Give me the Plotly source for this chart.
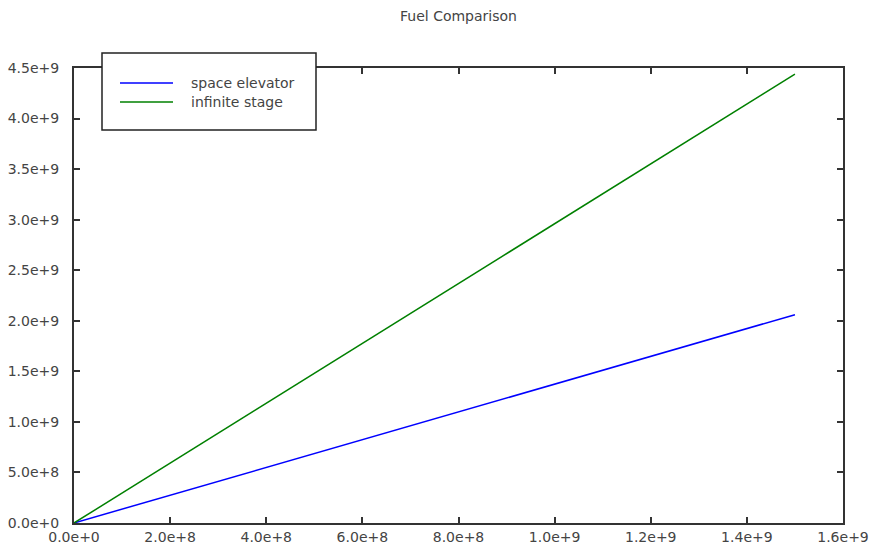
import plotly.graph_objects as go

# Data
x_vals = [0.0, 3.0e8, 6.0e8, 9.0e8, 1.2e9, 1.5e9]
space_elevator = [0.0, 0.412e9, 0.824e9, 1.236e9, 1.648e9, 2.06e9]
infinite_stage = [0.0, 0.888e9, 1.776e9, 2.664e9, 3.552e9, 4.44e9]
series_names = ["space elevator", "infinite stage"]
series_colors = ["#0000ff", "#008000"]

x_ticks = [0, 2e8, 4e8, 6e8, 8e8, 1.0e9, 1.2e9, 1.4e9, 1.6e9]
x_tick_labels = ["0.0e+0", "2.0e+8", "4.0e+8", "6.0e+8", "8.0e+8", "1.0e+9", "1.2e+9", "1.4e+9", "1.6e+9"]
y_ticks = [0, 5e8, 1.0e9, 1.5e9, 2.0e9, 2.5e9, 3.0e9, 3.5e9, 4.0e9, 4.5e9]
y_tick_labels = ["0.0e+0", "5.0e+8", "1.0e+9", "1.5e+9", "2.0e+9", "2.5e+9", "3.0e+9", "3.5e+9", "4.0e+9", "4.5e+9"]

FONT = "DejaVu Sans, Liberation Sans, sans-serif"
TXT = "#444444"
AX = "#333333"

FW, FH = 869, 545

# plot area in window pixels
L, R, T, B = 74, 843, 68, 523
W, H = R - L, B - T

fig = go.Figure()
for name, ys, col in zip(series_names, [space_elevator, infinite_stage], series_colors):
    fig.add_trace(go.Scatter(x=x_vals, y=ys, mode="lines", name=name,
                             line=dict(color=col, width=1.5), showlegend=False))

axis_common = dict(showline=True, linecolor=AX, linewidth=2, mirror="ticks",
                   ticks="inside", ticklen=6, tickwidth=1.5, tickcolor=AX,
                   showgrid=False, zeroline=False, automargin=False,
                   tickfont=dict(family=FONT, size=14, color=TXT))

fig.update_xaxes(range=[0, 1.6e9], tickvals=x_ticks, ticktext=x_tick_labels, **axis_common)
fig.update_yaxes(range=[0, 4.5e9], tickvals=y_ticks, ticktext=y_tick_labels,
                 ticklabelstandoff=10, **axis_common)

def px_x(p):
    return (p - L) / W

def px_y(p):
    return (B - p) / H

# legend box (drawn above the top axis line like the reference)
fig.add_shape(type="rect", xref="paper", yref="paper",
              x0=px_x(102), x1=px_x(316), y0=px_y(130), y1=px_y(53),
              line=dict(color="#222222", width=1.5), fillcolor="white", layer="above")
for i, (name, col) in enumerate(zip(series_names, series_colors)):
    yy = 83 + 19 * i
    fig.add_shape(type="line", xref="paper", yref="paper",
                  x0=px_x(120), x1=px_x(173), y0=px_y(yy), y1=px_y(yy),
                  line=dict(color=col, width=1.5), layer="above")
    fig.add_annotation(xref="paper", yref="paper", x=px_x(189), y=px_y(yy),
                       xanchor="left", yanchor="middle", showarrow=False, text=name,
                       font=dict(family=FONT, size=14, color=TXT))

fig.update_layout(
    width=FW, height=FH,
    margin=dict(l=L, r=FW - R, t=T, b=FH - B),
    paper_bgcolor="white", plot_bgcolor="white",
    title=dict(text="Fuel Comparison", x=(L + (R - L) / 2) / FW, xanchor="center",
               y=1 - 16 / FH, yanchor="middle",
               font=dict(family=FONT, size=14, color=TXT)),
    showlegend=False,
)

fig.write_html("out.html", config={"displayModeBar": False},
               post_script="document.body.style.margin='0';document.body.style.overflow='hidden';")
